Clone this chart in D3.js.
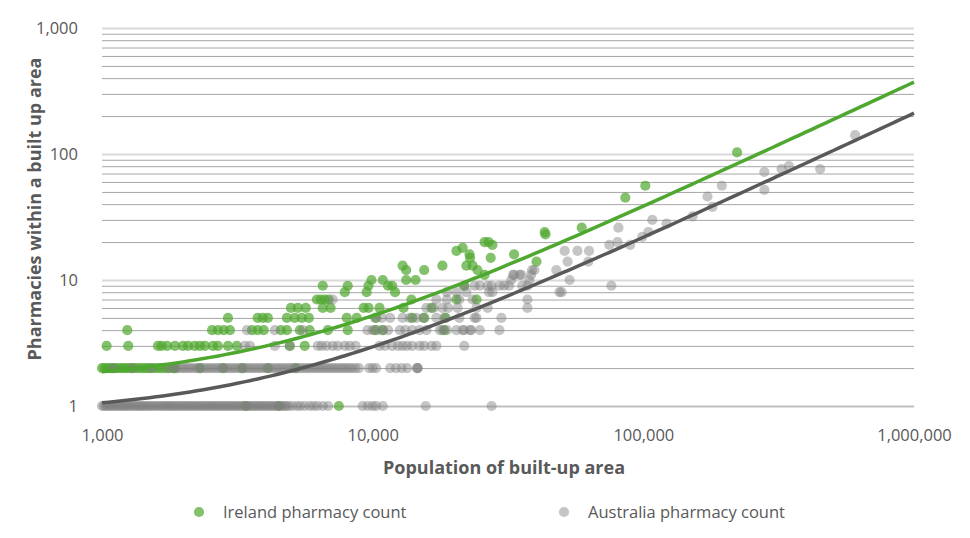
<!DOCTYPE html>
<html>
<head>
<meta charset="utf-8">
<script src="https://cdn.jsdelivr.net/npm/d3@7"></script>
<style>
    body { margin: 0; background: #fff; }
    svg text { font-family: "Segoe UI", "Open Sans", sans-serif; fill: #595959; }
</style>
</head>
<body>
<svg id="chart" width="970" height="538"></svg>
<script>
// tick values on the two log axes
const xTicks = [1000, 10000, 100000, 1000000]
const yTicks = [1, 10, 100, 1000]

const seriesNames = ['Ireland pharmacy count', 'Australia pharmacy count']

// Ireland: [pharmacy count, populations of the built-up areas with that count]
const irelandRows = [
    [1, [3400, 4500, 7500]],
    [2, [1000, 1020, 1045, 1070, 1095, 1120, 1150, 1180, 1210, 1240, 1270, 1300, 1340, 1380, 1420,
         1460, 1500, 1550, 1600, 1650, 1700, 1760, 1820, 1860, 2300, 2800, 3300, 4100, 5200]],
    [3, [1040, 1250, 1610, 1660, 1740, 1860, 1990, 2080, 2200, 2300, 2400, 2570, 2680, 2920, 3150, 4940, 5610]],
    [4, [1240, 2550, 2680, 2820, 2970, 3580, 3760, 3960, 4580, 4820, 5380, 5850, 6830, 8090, 10200, 10900, 18400]],
    [5, [2920, 3760, 3930, 4100, 4820, 5150, 5470, 5810, 8020, 8730, 10300, 14000, 15500, 18600]],
    [6, [4990, 5290, 5660, 6540, 6990, 9270, 9660, 10600, 13000, 16500]],
    [7, [6220, 6430, 6650, 6880, 13900, 20400, 24200]],
    [8, [7890, 9500, 12100]],
    [9, [6540, 8090, 9650, 11400, 11800, 21800]],
    [10, [9900, 10900, 13300, 14400]],
    [11, [25900]],
    [12, [13300, 15500, 24400]],
    [13, [12900, 18100, 22200, 23400]],
    [14, [40300]],
    [15, [22900, 27300]],
    [16, [22800, 33300]],
    [17, [20400]],
    [18, [21500]],
    [19, [27700]],
    [20, [25900, 26800]],
    [23, [43500]],
    [24, [43200]],
    [26, [59200]],
    [45, [85800]],
    [56, [101700]],
    [103, [222000]]
]

// Australia, same layout
const australiaRows = [
    [1, [1000, 1015, 1030, 1050, 1065, 1085, 1100, 1120, 1140, 1160, 1180, 1200, 1220, 1240, 1260, 1285,
         1310, 1330, 1355, 1380, 1400, 1425, 1450, 1480, 1500, 1530, 1560, 1590, 1620, 1650, 1680, 1710,
         1740, 1770, 1800, 1830, 1860, 1900, 1930, 1970, 2000, 2040, 2080, 2110, 2150, 2190, 2230, 2270,
         2310, 2350, 2400, 2440, 2480, 2530, 2570, 2620, 2660, 2710, 2760, 2810, 2860, 2910, 2960, 3020,
         3070, 3130, 3180, 3240, 3300, 3360, 3420, 3480, 3540, 3600, 3670, 3740, 3800, 3870, 3940, 4010,
         4080, 4160, 4230, 4310, 4390, 4470, 4550, 4630, 4720, 4800, 4900, 5050, 5250, 5400, 5600, 5850,
         6050, 6250, 6550, 6850, 9180, 9600, 10000, 10300, 10900, 15700, 27500]],
    [2, [1100, 1300, 1520, 1750, 1850, 1890, 1940, 1990, 2040, 2090, 2140, 2200, 2250, 2310, 2370, 2430,
         2490, 2550, 2620, 2680, 2750, 2820, 2890, 2960, 3040, 3110, 3190, 3270, 3350, 3440, 3520, 3610,
         3700, 3800, 3890, 3990, 4090, 4190, 4300, 4410, 4520, 4630, 4750, 4870, 4990, 5110, 5240, 5380,
         5510, 5650, 5790, 5940, 6090, 6240, 6400, 6560, 6730, 6900, 7070, 7250, 7430, 7620, 7810, 8000,
         8200, 8400, 8650, 8900, 9700, 10000, 10300, 11600, 12200, 12800, 13400, 14600, 14600, 14700]],
    [3, [3370, 3520, 4350, 4940, 6270, 6480, 6760, 7120, 7430, 7890, 8230, 8650, 10600, 11100, 11800,
         12400, 12900, 13400, 14000, 14900, 15500, 16500, 17200, 21800]],
    [4, [3430, 4350, 5520, 9570, 10000, 10400, 10900, 11400, 12600, 13200, 14000, 14900, 15800, 17700,
         18100, 18800, 20400, 21500, 21800, 22900, 23100, 24900, 29400]],
    [5, [10200, 10800, 11600, 12900, 13700, 14500, 15400, 17200, 18400, 20900, 23800, 24200, 29900]],
    [6, [15800, 16800, 18100, 19000, 20600, 24200, 26600, 37300]],
    [7, [7120, 17200, 18800, 20900, 23400, 37300]],
    [8, [18800, 20400, 22200, 26900, 27700, 49000, 49900]],
    [9, [21800, 23800, 24900, 26600, 27500, 29400, 30600, 31900, 35700, 37300, 76200]],
    [10, [32500, 37900, 53400]],
    [11, [33000, 33300, 34900, 35400, 38500]],
    [12, [38800, 39600, 47700]],
    [14, [52500, 62600]],
    [17, [51200, 57100, 63000]],
    [19, [74900, 89400]],
    [20, [80300]],
    [22, [99100]],
    [24, [104400]],
    [26, [80900]],
    [28, [121900]],
    [30, [107900]],
    [32, [152000]],
    [38, [180000]],
    [46, [172600]],
    [52, [280000]],
    [56, [195000]],
    [72, [280000]],
    [76, [324000, 450000]],
    [80, [345000]],
    [141, [606000]]
]

// linear trend lines (count = intercept + slope * population)
const irelandTrend = { intercept: 1.5, slope: 3.705e-4 }
const australiaTrend = { intercept: 0.85, slope: 2.1e-4 }

const green = '#4ea72e'
const grey = '#7f7f7f'
const greyLine = '#595959'
const dotR = 5.1

const svg = d3.select('#chart')

const x = d3.scaleLog().domain([1000, 1000000]).range([102, 914])
const y = d3.scaleLog().domain([1, 1000]).range([406, 28])

function flatten(rows) {
    let pts = []
    rows.forEach(function (r) {
        r[1].forEach(function (p) { pts.push({ pop: p, count: r[0] }) })
    })
    return pts
}

// minor gridlines (2..9 in every decade)
let minor = y.ticks().filter(d => yTicks.indexOf(d) < 0)
svg.append('g')
    .attr('class', 'grid-minor')
    .attr('transform', 'translate(102,0)')
    .call(d3.axisLeft(y).tickValues(minor).tickSize(-812).tickFormat(''))
    .call(g => g.select('.domain').remove())
    .selectAll('line').attr('stroke', '#a6a6a6').attr('stroke-width', 1)

// major gridlines
svg.append('g')
    .attr('class', 'grid-major')
    .attr('transform', 'translate(102,0)')
    .call(d3.axisLeft(y).tickValues(yTicks).tickSize(-812).tickFormat(''))
    .call(g => g.select('.domain').remove())
    .selectAll('line')
    .attr('stroke', d => d === 1 ? '#bfbfbf' : '#d9d9d9')
    .attr('stroke-width', 2)

// axes labels
svg.append('g')
    .attr('transform', 'translate(0,406)')
    .call(d3.axisBottom(x).tickValues(xTicks).tickSize(0).tickPadding(23).tickFormat(d3.format(',')))
    .call(g => g.select('.domain').remove())
    .selectAll('text').style('font-size', '16.5px').attr('fill', '#595959')

svg.append('g')
    .attr('transform', 'translate(102,0)')
    .call(d3.axisLeft(y).tickValues(yTicks).tickSize(0).tickPadding(24).tickFormat(d3.format(',')))
    .call(g => g.select('.domain').remove())
    .selectAll('text').style('font-size', '16.5px').attr('fill', '#595959')

// points, Ireland first so Australia sits on top
svg.append('g').selectAll('circle')
    .data(flatten(irelandRows))
    .join('circle')
    .attr('cx', d => x(d.pop))
    .attr('cy', d => y(d.count))
    .attr('r', dotR)
    .attr('fill', green)
    .attr('fill-opacity', 0.7)

svg.append('g').selectAll('circle')
    .data(flatten(australiaRows))
    .join('circle')
    .attr('cx', d => x(d.pop))
    .attr('cy', d => y(d.count))
    .attr('r', dotR)
    .attr('fill', grey)
    .attr('fill-opacity', 0.45)

// trend lines, sampled along the log x axis
let samples = d3.range(0, 121).map(i => 1000 * Math.pow(1000, i / 120))
let trendLine = d3.line().x(d => x(d[0])).y(d => y(d[1]))

svg.append('path')
    .datum(samples.map(p => [p, irelandTrend.intercept + irelandTrend.slope * p]))
    .attr('d', trendLine)
    .attr('fill', 'none')
    .attr('stroke', green)
    .attr('stroke-width', 3.5)

svg.append('path')
    .datum(samples.map(p => [p, australiaTrend.intercept + australiaTrend.slope * p]))
    .attr('d', trendLine)
    .attr('fill', 'none')
    .attr('stroke', greyLine)
    .attr('stroke-width', 3.5)

// axis titles
svg.append('text')
    .attr('x', 504)
    .attr('y', 474)
    .attr('text-anchor', 'middle')
    .style('font-size', '18px')
    .style('font-weight', 'bold')
    .text('Population of built-up area')

svg.append('text')
    .attr('transform', 'translate(40.5,209) rotate(-90)')
    .attr('text-anchor', 'middle')
    .style('font-size', '18px')
    .style('font-weight', 'bold')
    .text('Pharmacies within a built up area')

// legend
let legend = svg.append('g').selectAll('g')
    .data(seriesNames)
    .join('g')
    .attr('transform', (d, i) => `translate(${[199, 564][i]},512)`)

legend.append('circle')
    .attr('r', dotR)
    .attr('fill', (d, i) => i === 0 ? green : grey)
    .attr('fill-opacity', (d, i) => i === 0 ? 0.7 : 0.45)

legend.append('text')
    .attr('x', 24)
    .attr('y', 6)
    .style('font-size', '16.5px')
    .text(d => d)
</script>
</body>
</html>
